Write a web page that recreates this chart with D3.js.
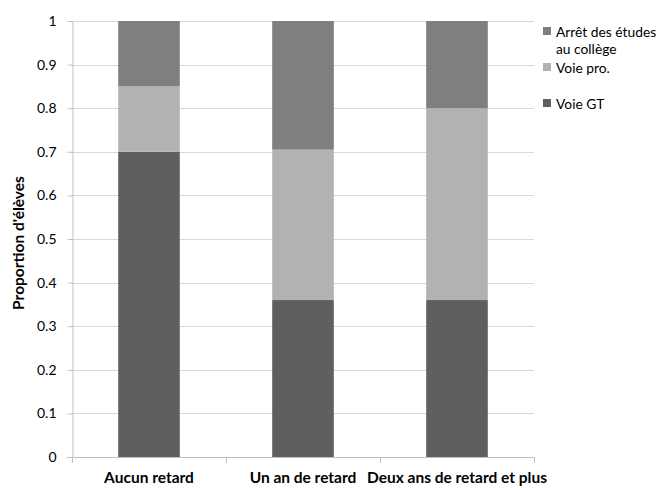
<!DOCTYPE html>
<html><head><meta charset="utf-8">
<script src="https://cdn.jsdelivr.net/npm/d3@7"></script>
<style>body{margin:0;background:#fff}svg{display:block}text{font-family:Lato,"Open Sans",sans-serif;fill:#000}</style>
</head><body><svg id="c" width="664" height="488"></svg>
<script>
const categories = ["Aucun retard", "Un an de retard", "Deux ans de retard et plus"];
const voieGT = [0.70, 0.36, 0.36];
const voiePro = [0.15, 0.345, 0.44];
const arret = [0.15, 0.295, 0.20];
const yTicks = [0, 0.1, 0.2, 0.3, 0.4, 0.5, 0.6, 0.7, 0.8, 0.9, 1];
const seriesNames = ["Voie GT", "Voie pro.", "Arrêt des études au collège"];
const colors = ["#5f5f5f", "#b2b2b2", "#7f7f7f"];

const svg = d3.select("#c");
const L = 72, R = 534, T = 21, B = 457;
const x = d3.scaleBand().domain(categories).range([L, R]).paddingInner(0.6).paddingOuter(0.3);
const y = d3.scaleLinear().domain([0, 1]).range([B, T]);

const rows = categories.map((c, i) => ({cat: c, gt: voieGT[i], pro: voiePro[i], arret: arret[i]}));
const stack = d3.stack().keys(["gt", "pro", "arret"])(rows);

// gridlines
svg.append("g").selectAll("line").data(yTicks.filter(d => d > 0)).join("line")
  .attr("x1", L).attr("x2", R).attr("y1", d => Math.round(y(d)) + 0.5).attr("y2", d => Math.round(y(d)) + 0.5)
  .attr("stroke", "#d9d9d9").attr("stroke-width", 1);

// bars
svg.append("g").selectAll("g").data(stack).join("g").attr("fill", (d, i) => colors[i])
  .selectAll("rect").data(d => d).join("rect")
  .attr("x", d => x(d.data.cat)).attr("width", x.bandwidth())
  .attr("y", d => y(d[1])).attr("height", d => y(d[0]) - y(d[1]));

// y axis
const ya = svg.append("g").attr("transform", `translate(${L + 0.5},0)`)
  .call(d3.axisLeft(y).tickValues(yTicks).tickFormat(d => String(d)).tickSize(5).tickSizeOuter(0));
ya.select(".domain").attr("stroke", "#bfbfbf");
ya.selectAll(".tick line").attr("stroke", "#bfbfbf");
ya.selectAll(".tick text").attr("font-size", 14).attr("font-family", "Lato").attr("x", -16).attr("fill", "#000");

// x axis
const xEdges = d3.scaleLinear().domain([0, categories.length]).range([L, R]);
svg.append("line").attr("x1", L - 5).attr("x2", R).attr("y1", B + 0.5).attr("y2", B + 0.5).attr("stroke", "#bfbfbf");
svg.append("g").selectAll("line").data(d3.range(categories.length + 1)).join("line")
  .attr("x1", d => Math.round(xEdges(d)) + 0.5).attr("x2", d => Math.round(xEdges(d)) + 0.5)
  .attr("y1", B).attr("y2", B + 6).attr("stroke", "#bfbfbf");
svg.append("g").selectAll("text").data(categories).join("text")
  .attr("x", d => x(d) + x.bandwidth() / 2).attr("y", 483)
  .attr("text-anchor", "middle").attr("font-size", 15.5).attr("font-weight", "bold").text(d => d);

// y title
svg.append("text").attr("transform", `translate(24,243) rotate(-90)`)
  .attr("text-anchor", "middle").attr("font-size", 15.5).attr("font-weight", "bold").text("Proportion d'élèves");

// legend
const legend = [
  {i: 2, lines: ["Arrêt des études", "au collège"], y: 37},
  {i: 1, lines: ["Voie pro."], y: 73},
  {i: 0, lines: ["Voie GT"], y: 109}
];
const lg = svg.append("g");
legend.forEach(d => {
  lg.append("rect").attr("x", 543).attr("y", d.y - 10).attr("width", 8).attr("height", 8).attr("fill", colors[d.i]);
  d.lines.forEach((t, k) => lg.append("text").attr("x", 556).attr("y", d.y + k * 17).attr("font-size", 13.8).text(t));
});
</script></body></html>
